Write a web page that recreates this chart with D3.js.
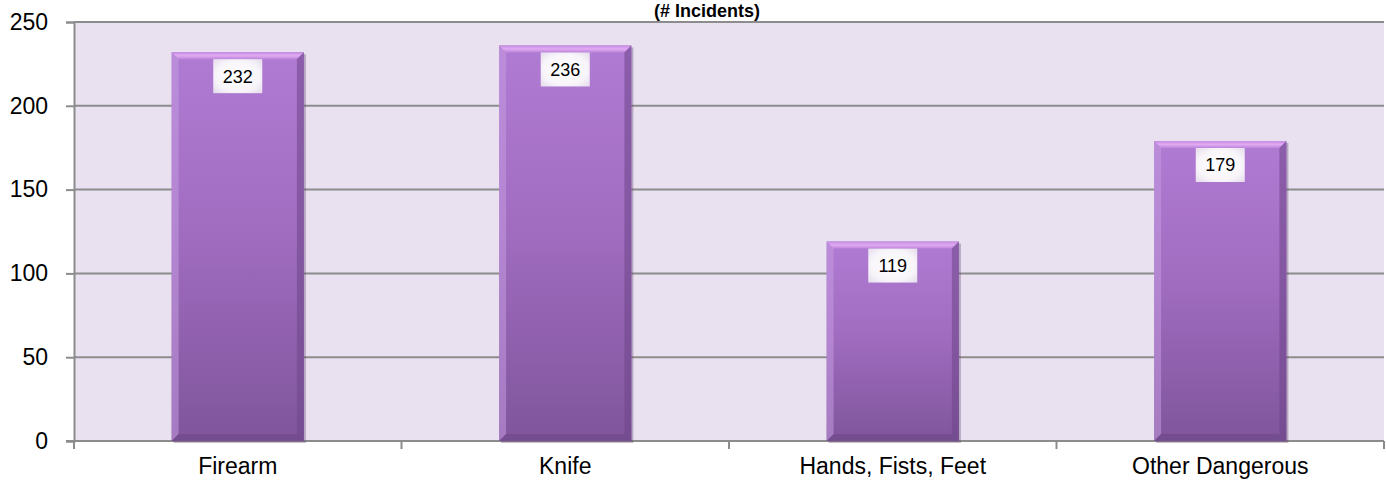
<!DOCTYPE html>
<html><head><meta charset="utf-8">
<script src="https://cdn.jsdelivr.net/npm/d3@7"></script>
<style>html,body{margin:0;padding:0;background:#fff;}svg{display:block;}</style>
</head><body>
<script>
const categories = ["Firearm", "Knife", "Hands, Fists, Feet", "Other Dangerous"];
const values = [232, 236, 119, 179];
const yTicks = [0, 50, 100, 150, 200, 250];
const title = "(# Incidents)";

const W = 1386, H = 489;
const plot = {left: 74, right: 1384, top: 22, bottom: 441};
const svg = d3.select("body").append("svg").attr("width", W).attr("height", H);
const defs = svg.append("defs");

const gBar = defs.append("linearGradient").attr("id","gBar").attr("x1",0).attr("y1",0).attr("x2",0).attr("y2",1);
gBar.append("stop").attr("offset","0%").attr("stop-color","#b07bd3");
gBar.append("stop").attr("offset","45%").attr("stop-color","#a16dc1");
gBar.append("stop").attr("offset","100%").attr("stop-color","#80559c");
const gTop = defs.append("linearGradient").attr("id","gTop").attr("x1",0).attr("y1",0).attr("x2",0).attr("y2",1);
gTop.append("stop").attr("offset","0%").attr("stop-color","#c38de0");
gTop.append("stop").attr("offset","50%").attr("stop-color","#e2a9f3");
gTop.append("stop").attr("offset","100%").attr("stop-color","#bb86da");
const gLbl = defs.append("radialGradient").attr("id","gLbl").attr("cx","50%").attr("cy","50%").attr("r","75%");
gLbl.append("stop").attr("offset","0%").attr("stop-color","#ffffff");
gLbl.append("stop").attr("offset","60%").attr("stop-color","#f8f5fa");
gLbl.append("stop").attr("offset","100%").attr("stop-color","#e2d6ea");

const x = d3.scaleBand().domain(categories).range([plot.left, plot.right]).paddingInner(0.596).paddingOuter(0.298);
const y = d3.scaleLinear().domain([0, 250]).range([plot.bottom, plot.top]);

// plot background
svg.append("rect").attr("x", plot.left).attr("y", plot.top)
  .attr("width", plot.right - plot.left).attr("height", plot.bottom - plot.top).attr("fill", "#e9e1f0");

// gridlines + y axis
const yAxis = d3.axisLeft(y).tickValues(yTicks).tickSize(8).tickPadding(18).tickFormat(d3.format("d"));
const gy = svg.append("g").attr("transform", `translate(${plot.left},0)`).call(yAxis);
gy.select(".domain").attr("stroke","#8c8c8c").attr("stroke-width",2);
gy.selectAll(".tick line").attr("stroke","#8c8c8c").attr("stroke-width",2);
gy.selectAll(".tick text").attr("font-family","Liberation Sans, Arial, sans-serif").attr("font-size",23).attr("fill","#000");
svg.append("g").selectAll("line").data(yTicks.filter(d => d > 0)).join("line")
  .attr("x1", plot.left).attr("x2", plot.right).attr("y1", d => y(d)).attr("y2", d => y(d))
  .attr("stroke","#8c8c8c").attr("stroke-width",2);

// x axis
const xAxis = d3.axisBottom(x).tickSize(0).tickPadding(17);
const gx = svg.append("g").attr("transform", `translate(0,${plot.bottom})`).call(xAxis);
gx.select(".domain").remove();
gx.selectAll(".tick text").attr("font-family","Liberation Sans, Arial, sans-serif").attr("font-size",23).attr("fill","#000");
svg.append("line").attr("x1", plot.left - 8).attr("x2", plot.right).attr("y1", plot.bottom).attr("y2", plot.bottom)
  .attr("stroke","#8c8c8c").attr("stroke-width",2);
const bounds = categories.map(c => x(c) - x.step()*x.paddingInner()/2).concat([plot.right]);
svg.append("g").selectAll("line").data(bounds).join("line")
  .attr("x1", d => d).attr("x2", d => d).attr("y1", plot.bottom).attr("y2", plot.bottom + 8)
  .attr("stroke","#8c8c8c").attr("stroke-width",2);

// bars
const b = 7;
const bars = svg.append("g").selectAll("g").data(categories.map((c,i)=>({c, v: values[i]}))).join("g");
bars.append("rect").attr("x", d => x(d.c) + 2).attr("y", d => y(d.v) + 2)
  .attr("width", x.bandwidth()).attr("height", d => y(0) - y(d.v)).attr("fill","#5e4270").attr("opacity",0.35);
bars.append("rect").attr("x", d => x(d.c)).attr("y", d => y(d.v))
  .attr("width", x.bandwidth()).attr("height", d => y(0) - y(d.v)).attr("fill","url(#gBar)");
bars.append("path").attr("fill","url(#gTop)").attr("d", d => {
  const x0 = x(d.c), x1 = x0 + x.bandwidth(), y0 = y(d.v);
  return `M${x0},${y0}L${x1},${y0}L${x1-b},${y0+b}L${x0+b},${y0+b}Z`;
});
bars.append("path").attr("fill","#c59ae0").attr("opacity",0.55).attr("d", d => {
  const x0 = x(d.c), y0 = y(d.v), y1 = y(0);
  return `M${x0},${y0}L${x0+b},${y0+b}L${x0+b},${y1-b}L${x0},${y1}Z`;
});
bars.append("path").attr("fill","#6d4689").attr("opacity",0.55).attr("d", d => {
  const x1 = x(d.c) + x.bandwidth(), y0 = y(d.v), y1 = y(0);
  return `M${x1},${y0}L${x1-b},${y0+b}L${x1-b},${y1-b}L${x1},${y1}Z`;
});
bars.append("path").attr("fill","#6a4787").attr("opacity",0.6).attr("d", d => {
  const x0 = x(d.c), x1 = x0 + x.bandwidth(), y1 = y(0);
  return `M${x0},${y1}L${x0+b},${y1-b}L${x1-b},${y1-b}L${x1},${y1}Z`;
});

// labels
const lw = 49, lh = 34;
bars.append("rect").attr("x", d => x(d.c) + x.bandwidth()/2 - lw/2).attr("y", d => y(d.v) + 7)
  .attr("width", lw).attr("height", lh).attr("fill","url(#gLbl)");
bars.append("text").attr("x", d => x(d.c) + x.bandwidth()/2).attr("y", d => y(d.v) + 7 + lh/2)
  .attr("dy","0.36em").attr("text-anchor","middle")
  .attr("font-family","Liberation Sans, Arial, sans-serif").attr("font-size",18).attr("fill","#000")
  .text(d => d.v);

// title
svg.append("text").attr("x", 707).attr("y", 17).attr("text-anchor","middle")
  .attr("font-family","Liberation Sans, Arial, sans-serif").attr("font-weight","bold").attr("font-size",18)
  .attr("fill","#000").text(title);
</script>
</body></html>
